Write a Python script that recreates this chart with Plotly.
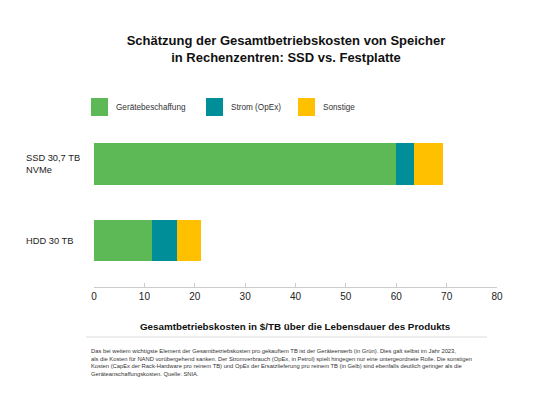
import plotly.graph_objects as go

# data -----
products = ["HDD 30 TB", "SSD 30,7 TB<br>NVMe"]
series_names = ["Gerätebeschaffung", "Strom (OpEx)", "Sonstige"]
geraete = [11.6, 60.0]
strom = [4.9, 3.5]
sonstige = [4.7, 5.7]
x_ticks = [0, 10, 20, 30, 40, 50, 60, 70, 80]

color_palette = {
    "Gerätebeschaffung": "#5DB955",
    "Strom (OpEx)": "#008F99",
    "Sonstige": "#FFC000",
}

title_text = ("Schätzung der Gesamtbetriebskosten von Speicher<br>"
              "in Rechenzentren: SSD vs. Festplatte")
x_title = "Gesamtbetriebskosten in $/TB über die Lebensdauer des Produkts"
footnote = (
    "Das bei weitem wichtigste Element der Gesamtbetriebskosten pro gekauftem TB ist der Geräteerwerb (in Grün). Dies galt selbst im Jahr 2023,<br>"
    "als die Kosten für NAND vorübergehend sanken. Der Stromverbrauch (OpEx, in Petrol) spielt hingegen nur eine untergeordnete Rolle. Die sonstigen<br>"
    "Kosten (CapEx der Rack-Hardware pro reinem TB) und OpEx der Ersatzlieferung pro reinem TB (in Gelb) sind ebenfalls deutlich geringer als die<br>"
    "Geräteanschaffungskosten. Quelle: SNIA."
)

# page body has an 8px margin, so the figure is drawn 8px smaller
OFF = 8
W, H = 540 - OFF, 405 - OFF
L, R, T, B = 94 - OFF, 43, 130 - OFF, 118
FONT = "Liberation Sans, Arial, Helvetica, sans-serif"


def px(x):
    # x in screen pixels -> paper
    return (x - OFF - L) / (W - L - R)


def py(y):
    # y in screen pixels -> paper
    return (H - B - (y - OFF)) / (H - T - B)


fig = go.Figure()
for name, vals in zip(series_names, [geraete, strom, sonstige]):
    fig.add_trace(
        go.Bar(
            y=products,
            x=vals,
            name=name,
            orientation="h",
            marker=dict(color=color_palette[name], line=dict(width=0)),
            showlegend=False,
        )
    )

# custom legend -----
legend_x = [91, 206, 298]
shapes = []
annotations = []
for name, lx in zip(series_names, legend_x):
    shapes.append(dict(type="rect", xref="paper", yref="paper",
                       x0=px(lx), x1=px(lx + 17), y0=py(116), y1=py(98),
                       fillcolor=color_palette[name], line=dict(width=0)))
    annotations.append(dict(text=name, xref="paper", yref="paper",
                            x=px(lx + 23), y=py(107), xanchor="left",
                            yanchor="middle", showarrow=False,
                            font=dict(size=8.2, color="#333333")))

# category labels (left aligned) -----
for p in products:
    annotations.append(dict(text=p, xref="paper", yref="y", x=px(24), y=p,
                            xanchor="left", yanchor="middle", align="left",
                            showarrow=False,
                            font=dict(size=9.3, color="#222222")))

# axis title, separator and footnote -----
annotations.append(dict(text="<b>" + x_title + "</b>", xref="paper",
                        yref="paper", x=px(295), y=py(326), xanchor="center",
                        yanchor="middle", showarrow=False,
                        font=dict(size=9.8, color="#111111")))
shapes.append(dict(type="line", xref="paper", yref="paper",
                   x0=px(86), x1=px(487), y0=py(337), y1=py(337),
                   line=dict(color="#dddddd", width=1)))
annotations.append(dict(text=footnote, xref="paper", yref="paper",
                        x=px(89), y=py(346), xanchor="left", yanchor="top",
                        align="left", showarrow=False,
                        font=dict(size=5.8, color="#333333")))

fig.update_layout(
    width=W,
    height=H,
    barmode="stack",
    bargap=0.45,
    margin=dict(l=L, r=R, t=T, b=B),
    paper_bgcolor="white",
    plot_bgcolor="white",
    font=dict(family=FONT, color="#222222"),
    title=dict(text="<b>" + title_text + "</b>", x=(286 - OFF) / W,
               xanchor="center", y=1 - (45 - OFF) / H, yanchor="middle",
               yref="container", font=dict(size=13, color="#111111")),
    shapes=shapes,
    annotations=annotations,
    xaxis=dict(range=[0, 80], tickvals=x_ticks, showgrid=False,
               zeroline=False, showline=True, linecolor="#cccccc",
               linewidth=1, ticks="inside", ticklen=4, tickcolor="#cccccc",
               tickfont=dict(size=10, color="#222222"), fixedrange=True),
    yaxis=dict(categoryorder="array", categoryarray=products,
               range=[-0.61, 1.45], showticklabels=False, showgrid=False,
               zeroline=False, showline=False, ticks=""),
)

fig.write_html("out.html")
